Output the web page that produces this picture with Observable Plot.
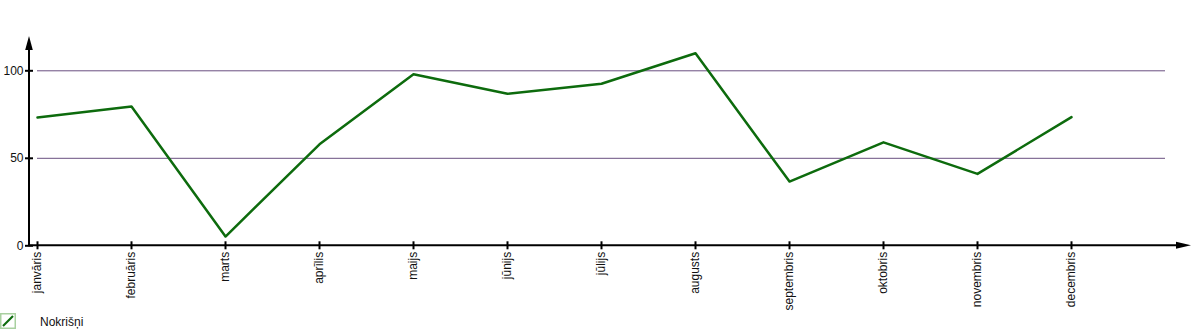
<!DOCTYPE html>
<html>
<head>
<meta charset="utf-8">
<script src="https://cdn.jsdelivr.net/npm/d3@7"></script>
<script src="https://cdn.jsdelivr.net/npm/@observablehq/plot@0.6"></script>
<style>
  html, body { margin: 0; padding: 0; background: #fff; }
  body { width: 1200px; height: 330px; overflow: hidden; font-family: "Liberation Sans", Arial, sans-serif; }
  #legend { position: relative; height: 18px; font-size: 12px; color: #111; }
  #legend .swatch { position: absolute; left: 0; top: 1px; }
  #legend .label { position: absolute; left: 40px; top: 3px; }
</style>
</head>
<body>
<div id="chart"></div>
<div id="legend"></div>
<script>
const months = ["janvāris", "februāris", "marts", "aprīlis", "maijs", "jūnijs", "jūlijs", "augusts", "septembris", "oktobris", "novembris", "decembris"];
const rainfall = [73.3, 79.6, 5.3, 58.0, 98.0, 86.9, 92.6, 110.0, 36.7, 59.1, 41.1, 73.5];
const yTicks = [0, 50, 100];
const gridTicks = [50, 100];
const seriesName = "Nokrišņi";

const lineColor = "#0d6b0d";
const data = months.map((m, i) => ({month: m, value: rainfall[i]}));

const H = 312;
const zeroY = 245.3;

function axesWithArrows(index, scales, values, dim) {
  const g = d3.create("svg:g");
  const y0 = scales.y(0);
  const x0 = dim.marginLeft;
  const xEnd = dim.width - 9;
  const yTop = 36;
  g.append("line").attr("x1", x0).attr("x2", xEnd - 12).attr("y1", y0).attr("y2", y0)
    .attr("stroke", "#000").attr("stroke-width", 2);
  g.append("path").attr("d", `M${xEnd},${y0}L${xEnd - 15},${y0 - 3.5}L${xEnd - 15},${y0 + 3.5}Z`).attr("fill", "#000");
  g.append("line").attr("x1", x0).attr("x2", x0).attr("y1", y0 + 1).attr("y2", yTop + 12)
    .attr("stroke", "#000").attr("stroke-width", 2);
  g.append("path").attr("d", `M${x0},${yTop}L${x0 - 3.8},${yTop + 14}L${x0 + 3.8},${yTop + 14}Z`).attr("fill", "#000");
  return g.node();
}

const plot = Plot.plot({
  width: 1200,
  height: H,
  marginLeft: 29,
  marginRight: 10,
  marginTop: 35,
  marginBottom: H - zeroY,
  x: {type: "point", domain: months, range: [36.5, 1072], padding: 0},
  y: {domain: [0, 100], range: [zeroY, 70.3]},
  style: {fontFamily: "'Liberation Sans', Arial, sans-serif", fontSize: "12px", color: "#111", background: "#fff", overflow: "visible"},
  marks: [
    Plot.ruleY(gridTicks, {stroke: "#6a4f80", strokeWidth: 1, insetLeft: 8, insetRight: 25}),
    Plot.line(data, {x: "month", y: "value", stroke: lineColor, strokeWidth: 2.5}),
    axesWithArrows,
    Plot.axisY(yTicks, {tickSize: 8, dx: 4, tickPadding: 2, label: null, stroke: "#000", strokeWidth: 2, fill: "#111"}),
    Plot.axisX(months, {tickSize: 8, dy: -4, tickPadding: 2, tickRotate: -90, label: null, stroke: "#000", strokeWidth: 2, fill: "#111"})
  ]
});
document.getElementById("chart").appendChild(plot);

const legend = document.getElementById("legend");
legend.innerHTML = `<svg class="swatch" width="16" height="16" viewBox="0 0 16 16">
  <rect x="0.75" y="0.75" width="14.5" height="14.5" fill="#fff" stroke="#a9d0a0" stroke-width="1.5"></rect>
  <line x1="3" y1="13" x2="13" y2="3" stroke="${lineColor}" stroke-width="2.2"></line>
</svg><span class="label"></span>`;
legend.querySelector(".label").textContent = seriesName;
</script>
</body>
</html>
